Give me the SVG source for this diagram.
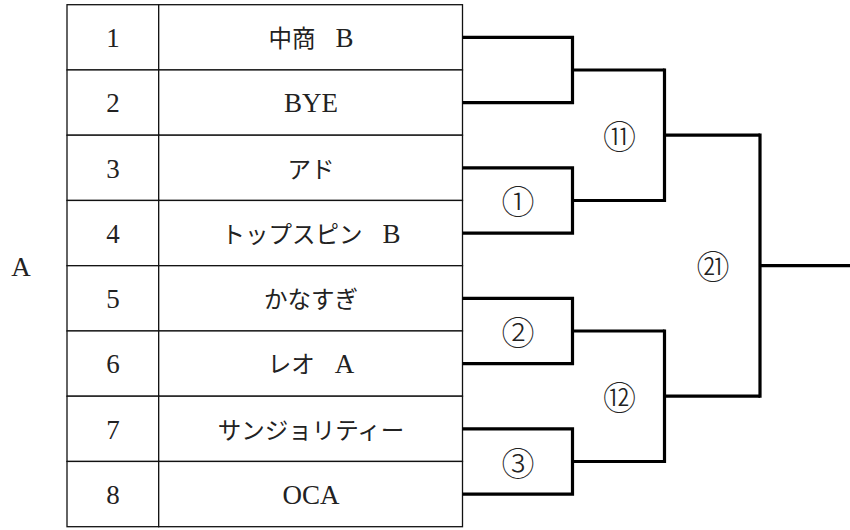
<svg xmlns="http://www.w3.org/2000/svg" width="850" height="530" viewBox="0 0 850 530">
<style>
.cell{fill:#fff;stroke:#111;stroke-width:1.3}
.num{font-family:"Liberation Serif","Noto Sans CJK JP",serif;font-size:27px;fill:#222;text-anchor:middle}
.name{font-family:"Liberation Serif","Noto Sans CJK JP",serif;font-size:23.5px;fill:#222;text-anchor:middle}
.lat{font-size:27px}
.mt{font-family:"Noto Sans CJK JP","DejaVu Sans",serif;font-size:33px;fill:#222;text-anchor:middle;dominant-baseline:central;font-weight:300}
.br{fill:none;stroke:#000;stroke-width:3.2}
</style>
<rect width="850" height="530" fill="#fff"/>
<g id="pool-label"><text class="num" x="21" y="276">A</text></g>
<g id="table">
<g id="row-1"><rect class="cell" x="67" y="4.7" width="91.7" height="65.25"/><rect class="cell" x="158.7" y="4.7" width="303.8" height="65.25"/><text class="num" x="113" y="47">1</text><text class="name" x="311" y="47">中商<tspan class="lat" dx="20">B</tspan></text></g>
<g id="row-2"><rect class="cell" x="67" y="69.95" width="91.7" height="65.25"/><rect class="cell" x="158.7" y="69.95" width="303.8" height="65.25"/><text class="num" x="113" y="112.3">2</text><text class="name lat" x="311" y="112.3">BYE</text></g>
<g id="row-3"><rect class="cell" x="67" y="135.2" width="91.7" height="65.25"/><rect class="cell" x="158.7" y="135.2" width="303.8" height="65.25"/><text class="num" x="113" y="177.5">3</text><text class="name" x="311" y="177.5">アド</text></g>
<g id="row-4"><rect class="cell" x="67" y="200.45" width="91.7" height="65.25"/><rect class="cell" x="158.7" y="200.45" width="303.8" height="65.25"/><text class="num" x="113" y="242.8">4</text><text class="name" x="311" y="242.8">トップスピン<tspan class="lat" dx="20">B</tspan></text></g>
<g id="row-5"><rect class="cell" x="67" y="265.7" width="91.7" height="65.25"/><rect class="cell" x="158.7" y="265.7" width="303.8" height="65.25"/><text class="num" x="113" y="308">5</text><text class="name" x="311" y="308">かなすぎ</text></g>
<g id="row-6"><rect class="cell" x="67" y="330.95" width="91.7" height="65.25"/><rect class="cell" x="158.7" y="330.95" width="303.8" height="65.25"/><text class="num" x="113" y="373.3">6</text><text class="name" x="311" y="373.3">レオ<tspan class="lat" dx="20">A</tspan></text></g>
<g id="row-7"><rect class="cell" x="67" y="396.2" width="91.7" height="65.25"/><rect class="cell" x="158.7" y="396.2" width="303.8" height="65.25"/><text class="num" x="113" y="438.6">7</text><text class="name" x="311" y="438.6">サンジョリティー</text></g>
<g id="row-8"><rect class="cell" x="67" y="461.45" width="91.7" height="65.25"/><rect class="cell" x="158.7" y="461.45" width="303.8" height="65.25"/><text class="num" x="113" y="503.8">8</text><text class="name lat" x="311" y="503.8">OCA</text></g>
</g>
<g id="connectors">
<path class="br" d="M462.5,37.3H572.5V102.6H462.5M572.5,70H664.5"/>
<path class="br" d="M462.5,167.8H572.5V233.1H462.5M572.5,200.5H664.5"/>
<path class="br" d="M462.5,298.3H572.5V363.6H462.5M572.5,331H664.5"/>
<path class="br" d="M462.5,428.9H572.5V494.1H462.5M572.5,461.5H664.5"/>
<path class="br" d="M664.5,68.4V202.1M664.5,135.2H760"/>
<path class="br" d="M664.5,329.4V463.1M664.5,396.2H760"/>
<path class="br" d="M760,133.6V397.8M760,265.7H850"/>
</g>
<g id="match-1"><text class="mt" x="518" y="200">①</text></g>
<g id="match-2"><text class="mt" x="518" y="330.5">②</text></g>
<g id="match-3"><text class="mt" x="518" y="461.5">③</text></g>
<g id="match-11"><text class="mt" x="619.5" y="135">⑪</text></g>
<g id="match-12"><text class="mt" x="619.5" y="396">⑫</text></g>
<g id="match-21"><text class="mt" x="713" y="265">㉑</text></g>
</svg>
